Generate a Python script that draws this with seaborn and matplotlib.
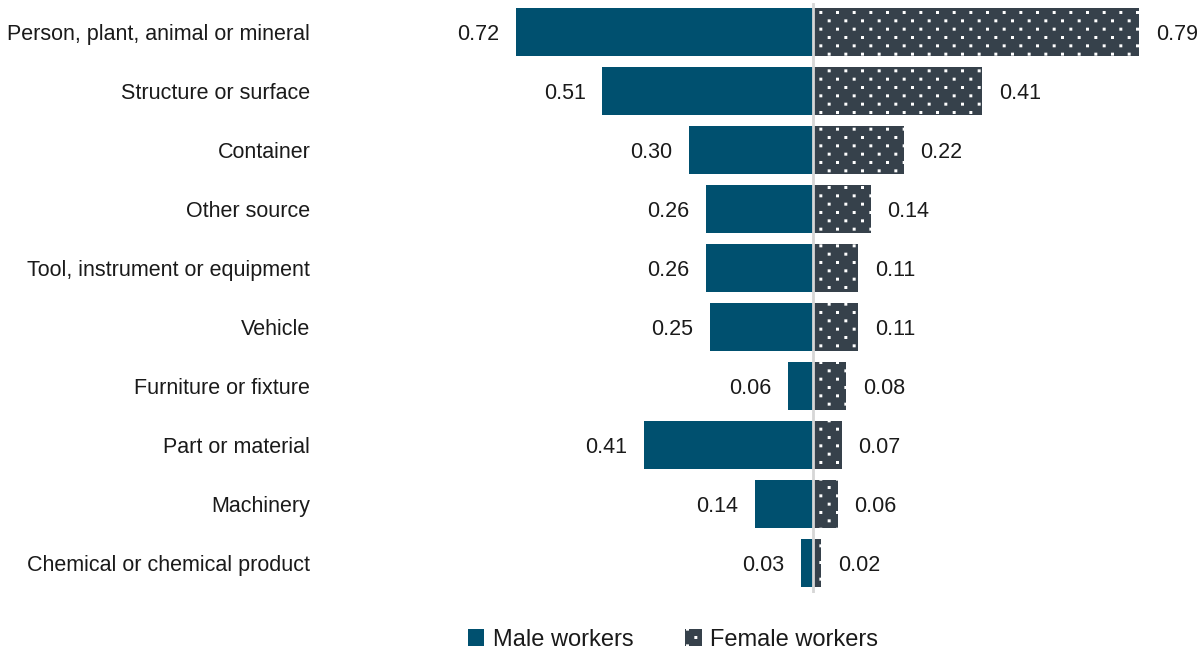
import matplotlib
matplotlib.use("Agg")
import matplotlib.pyplot as plt
import matplotlib.hatch as mhatch
from matplotlib.path import Path
from matplotlib.patches import Patch
import numpy as np
import seaborn as sns
import pandas as pd

categories = [
    "Person, plant, animal or mineral",
    "Structure or surface",
    "Container",
    "Other source",
    "Tool, instrument or equipment",
    "Vehicle",
    "Furniture or fixture",
    "Part or material",
    "Machinery",
    "Chemical or chemical product",
]
male = [0.72, 0.51, 0.30, 0.26, 0.26, 0.25, 0.06, 0.41, 0.14, 0.03]
female = [0.79, 0.41, 0.22, 0.14, 0.11, 0.11, 0.08, 0.07, 0.06, 0.02]
groups = ["Male workers", "Female workers"]

MALE_COLOR = "#00506f"
FEMALE_COLOR = "#36414b"


class StaggeredSquareDots(mhatch.HatchPatternBase):
    """'.' hatch drawn as tiny square dots on a staggered grid
    (12 rows per tile, 6 dots per row, odd rows shifted by half a step)."""
    ROWS, COLS, HALF = 12, 6, 0.008

    def __init__(self, hatch, density):
        self.on = hatch.count(".") > 0
        self.num_vertices = self.ROWS * self.COLS * 5 if self.on else 0

    def set_vertices_and_codes(self, vertices, codes):
        h = self.HALF
        square = np.array([[-h, -h], [h, -h], [h, h], [-h, h], [-h, -h]])
        i = 0
        for r in range(self.ROWS):
            y = (r + 0.5) / self.ROWS
            shift = 0.25 if r % 2 == 0 else 0.75
            for c in range(self.COLS):
                x = (c + shift) / self.COLS
                vertices[i:i + 5] = square + [x, y]
                codes[i:i + 5] = [Path.MOVETO, Path.LINETO, Path.LINETO,
                                  Path.LINETO, Path.CLOSEPOLY]
                i += 5


# '.' now means the staggered square-dot texture instead of filled circles
mhatch._hatch_types = [StaggeredSquareDots if t is mhatch.SmallFilledCircles else t
                       for t in mhatch._hatch_types]

sns.set_theme(style="white")
plt.rcParams["font.family"] = ["Liberation Sans", "DejaVu Sans"]
plt.rcParams["hatch.linewidth"] = 1.0

# Long-form table: male values point left, female values point right
df = pd.DataFrame({
    "category": categories * 2,
    "group": [groups[0]] * len(categories) + [groups[1]] * len(categories),
    "value": male + female,
})
df["signed"] = df["value"].where(df["group"] == groups[1], -df["value"])

fig = plt.figure(figsize=(12.04, 6.51), dpi=100)
ax = fig.add_axes([320 / 1204, (651 - 592.5) / 651, (1190 - 320) / 1204, 590 / 651])

sns.barplot(
    data=df, x="signed", y="category", hue="group", order=categories,
    hue_order=groups, palette=[MALE_COLOR, FEMALE_COLOR], dodge=False,
    width=0.83, orient="h", ax=ax, legend=False, saturation=1,
)

male_bars, female_bars = ax.containers[0], ax.containers[1]
for p in male_bars:
    p.set_linewidth(0)
for p in female_bars:
    p.set_hatch(".")
    p.set_edgecolor("white")
    p.set_linewidth(0)

value_texts = []
value_texts += ax.bar_label(male_bars, labels=[f"{v:.2f}" for v in male], padding=12,
                            fontsize=15.5, color="#1a1a1a")
value_texts += ax.bar_label(female_bars, labels=[f"{v:.2f}" for v in female], padding=12,
                            fontsize=15.5, color="#1a1a1a")
for t in value_texts:
    t.set_verticalalignment("center_baseline")

ax.axvline(0, color="#d6d6d6", lw=2, zorder=5)

ax.set_xlim(-(813 - 320) / 413, (1190 - 813) / 413)
ax.set_ylim(len(categories) - 0.5, -0.5)
ax.set_xlabel("")
ax.set_ylabel("")
ax.set_xticks([])
ax.tick_params(axis="y", length=0, pad=7, labelsize=15.5, labelcolor="#1a1a1a")
for s in ax.spines.values():
    s.set_visible(False)

handles = [
    Patch(facecolor=MALE_COLOR, edgecolor=MALE_COLOR, linewidth=0, label=groups[0]),
    Patch(facecolor=FEMALE_COLOR, edgecolor="white", linewidth=0, hatch=".", label=groups[1]),
]
fig.legend(handles=handles, loc="center", bbox_to_anchor=(673 / 1204, 1 - 640 / 651),
           ncol=2, frameon=False, fontsize=17, handlelength=0.7, handleheight=0.7,
           handletextpad=0.35, columnspacing=2.2, labelcolor="#1a1a1a")

fig.savefig("out.png", dpi=100)
